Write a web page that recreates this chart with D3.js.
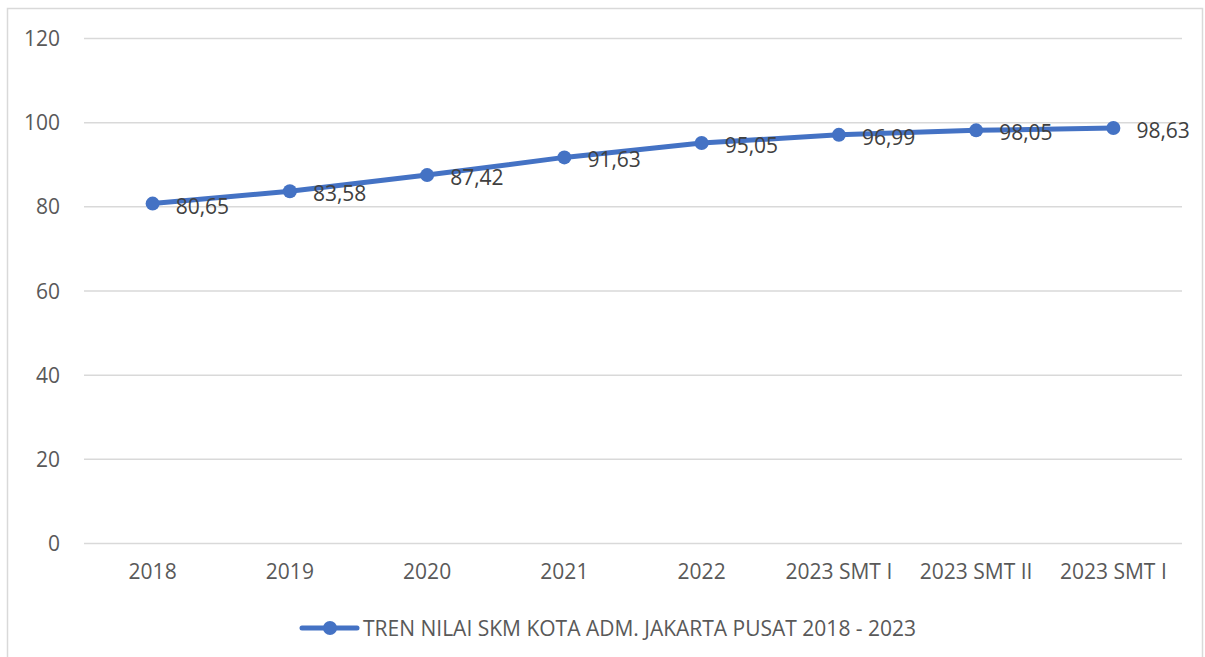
<!DOCTYPE html>
<html><head><meta charset="utf-8">
<script src="https://cdn.jsdelivr.net/npm/d3@7"></script>
<style>html,body{margin:0;padding:0;background:#fff}svg{display:block}</style>
</head><body>
<svg id="chart" width="1205" height="657"></svg>
<script>
const categories = ["2018","2019","2020","2021","2022","2023 SMT I","2023 SMT II","2023 SMT I "];
const values = [80.65, 83.58, 87.42, 91.63, 95.05, 96.99, 98.05, 98.63];
const yTicks = [0, 20, 40, 60, 80, 100, 120];
const seriesName = "TREN NILAI SKM KOTA ADM. JAKARTA PUSAT 2018 - 2023";

const svg = d3.select("#chart");
const font = "'Open Sans', sans-serif";
const m = {left: 84, right: 1182, top: 38, bottom: 543};
const color = "#4472C4";

svg.append("rect").attr("x", 7.5).attr("y", 8.5).attr("width", 1195).attr("height", 670)
  .attr("fill", "#fff").attr("stroke", "#d9d9d9").attr("stroke-width", 1.5);

const x = d3.scaleBand().domain(categories).range([m.left, m.right]);
const y = d3.scaleLinear().domain([0, 120]).range([m.bottom, m.top]);

const yAxis = d3.axisLeft(y).tickValues(yTicks).tickSize(-(m.right - m.left)).tickPadding(24).tickFormat(d3.format("d"));
const gy = svg.append("g").attr("transform", `translate(${m.left},0)`).call(yAxis);
gy.select(".domain").remove();
gy.selectAll(".tick line").attr("stroke", "#d9d9d9").attr("stroke-width", 1.5);
gy.selectAll(".tick text").attr("fill", "#595959").style("font-family", font).style("font-size", "21px").attr("dy", "0.36em");

const xAxis = d3.axisBottom(x).tickSize(0).tickPadding(21);
const gx = svg.append("g").attr("transform", `translate(0,${m.bottom})`).call(xAxis);
gx.select(".domain").remove();
gx.selectAll(".tick text").attr("fill", "#595959").style("font-family", font).style("font-size", "21px");

const cx = d => x(d) + x.bandwidth() / 2;
const line = d3.line().x((d, i) => cx(categories[i])).y(d => y(d));
svg.append("path").datum(values).attr("d", line).attr("fill", "none")
  .attr("stroke", color).attr("stroke-width", 5).attr("stroke-linejoin", "round").attr("stroke-linecap", "round");

svg.selectAll("circle.pt").data(values).enter().append("circle").attr("class", "pt")
  .attr("cx", (d, i) => cx(categories[i])).attr("cy", d => y(d)).attr("r", 7).attr("fill", color);

svg.selectAll("text.lbl").data(values).enter().append("text").attr("class", "lbl")
  .attr("x", (d, i) => cx(categories[i]) + 23).attr("y", d => y(d) + 2)
  .attr("dominant-baseline", "central")
  .attr("fill", "#404040").style("font-family", font).style("font-size", "21px")
  .text(d => d3.format(".2f")(d).replace(".", ","));

const lg = svg.append("g");
lg.append("line").attr("x1", 302).attr("x2", 357).attr("y1", 628).attr("y2", 628)
  .attr("stroke", color).attr("stroke-width", 5).attr("stroke-linecap", "round");
lg.append("circle").attr("cx", 330).attr("cy", 628).attr("r", 7).attr("fill", color);
lg.append("text").attr("x", 363).attr("y", 628).attr("dominant-baseline", "central")
  .attr("fill", "#595959").style("font-family", font).style("font-size", "21px").text(seriesName);
</script>
</body></html>
